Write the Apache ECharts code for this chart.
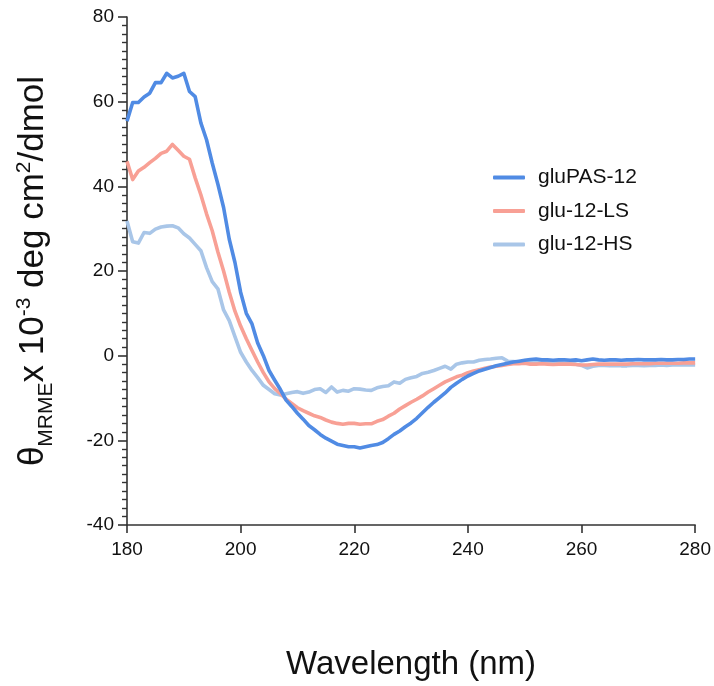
<!DOCTYPE html>
<html>
<head>
<meta charset="utf-8">
<script src="https://cdn.jsdelivr.net/npm/echarts@6/dist/echarts.min.js"></script>
<style>
  html, body { margin: 0; padding: 0; background: #fff; }
  #chart { width: 714px; height: 686px; }
</style>
</head>
<body>
<div id="chart"></div>
<script>
// wavelength grid, 1 nm steps
const wavelengths = [];
for (let nm = 180; nm <= 280; nm++) wavelengths.push(nm);

const seriesNames = ['gluPAS-12', 'glu-12-LS', 'glu-12-HS'];
const seriesColors = ['#508be4', '#f8a095', '#a9c6e8'];

// values (x 10^-3 deg cm2/dmol), 180..280 nm
const gluPAS12 = [
  55.4, 59.8, 59.8, 61.1, 62.0, 64.5, 64.5, 66.7, 65.6, 66.0,
  66.7, 62.4, 61.2, 55.0, 51.0, 45.5, 40.5, 35.0, 27.5, 22.0,
  15.0, 10.0, 7.5, 3.0, 0.0, -3.5, -5.8, -8.0, -10.5, -12.0,
  -13.6, -15.0, -16.5, -17.5, -18.6, -19.5, -20.2, -20.9, -21.2, -21.5,
  -21.5, -21.8, -21.5, -21.2, -21.0, -20.5, -19.6, -18.6, -17.8, -16.8,
  -15.9, -14.8, -13.5, -12.2, -11.0, -9.9, -8.8, -7.5, -6.5, -5.6,
  -4.8, -4.2, -3.6, -3.2, -2.8, -2.4, -2.1, -1.8, -1.5, -1.3,
  -1.1, -0.9, -0.8, -1.0, -1.0, -1.1, -1.0, -1.0, -1.1, -1.0,
  -1.2, -1.0, -0.8, -1.0, -1.1, -1.0, -1.0, -1.1, -1.0, -1.0,
  -0.9, -1.0, -1.0, -1.0, -0.9, -1.0, -1.0, -0.9, -0.9, -0.8,
  -0.8
];
const glu12LS = [
  45.9, 41.6, 43.6, 44.5, 45.6, 46.6, 47.8, 48.3, 49.9, 48.5,
  47.1, 46.4, 42.0, 38.0, 33.5, 29.5, 24.5, 20.0, 15.0, 10.5,
  7.0, 4.0, 1.2, -1.5, -4.0, -6.2, -7.8, -9.0, -10.3, -11.3,
  -12.3, -13.0, -13.6, -14.2, -14.6, -15.2, -15.7, -16.0, -16.2, -16.0,
  -16.0, -16.2, -16.1, -16.1, -15.5, -15.1, -14.3, -13.6, -12.6, -11.8,
  -11.0, -10.3, -9.5, -8.6, -7.8, -7.0, -6.2, -5.6, -5.0, -4.6,
  -4.0, -3.6, -3.3, -3.0, -2.7, -2.5, -2.3, -2.1, -1.9, -1.9,
  -1.8, -2.0, -2.0, -1.9, -2.0, -2.1, -2.0, -2.0, -2.0, -2.1,
  -2.2, -2.2, -2.1, -2.0, -2.0, -2.0, -2.0, -2.0, -2.0, -1.9,
  -1.9, -1.9, -1.9, -1.8, -1.8, -1.8, -1.8, -1.8, -1.7, -1.7,
  -1.7
];
const glu12HS = [
  31.8, 26.9, 26.6, 29.1, 28.9, 29.9, 30.4, 30.6, 30.7, 30.2,
  28.8, 27.8, 26.3, 24.8, 20.8, 17.5, 15.8, 10.8, 8.3, 4.5,
  0.8, -1.5, -3.5, -5.2, -7.0, -8.0, -9.0, -9.3, -9.0, -8.7,
  -8.5, -8.9, -8.6, -8.0, -7.8, -8.7, -7.4, -8.6, -8.2, -8.4,
  -7.8, -7.9, -8.1, -8.2, -7.6, -7.3, -7.1, -6.2, -6.5, -5.6,
  -5.2, -4.9, -4.2, -3.9, -3.5, -3.0, -2.5, -3.2, -2.0, -1.7,
  -1.5, -1.5, -1.1, -0.9, -0.8, -0.6, -0.5, -1.3, -1.4, -1.5,
  -1.5, -1.6, -1.6, -1.5, -1.6, -1.6, -1.7, -1.8, -1.8, -2.0,
  -2.3, -2.9, -2.5, -2.3, -2.3, -2.4, -2.3, -2.4, -2.4, -2.3,
  -2.3, -2.4, -2.3, -2.3, -2.2, -2.3, -2.2, -2.2, -2.2, -2.2,
  -2.2
];

const xTicks = [180, 200, 220, 240, 260, 280];
const yTicks = [-40, -20, 0, 20, 40, 60, 80];

const font = 'Liberation Sans, Arial, sans-serif';
const toPairs = vals => wavelengths.map((nm, i) => [nm, vals[i]]);

const chart = echarts.init(document.getElementById('chart'), null, { renderer: 'canvas' });

// HS drawn first so the darker lines sit on top
const drawOrder = [2, 1, 0];
const allValues = [gluPAS12, glu12LS, glu12HS];

const option = {
  animation: false,
  backgroundColor: '#fff',
  textStyle: { fontFamily: font },
  grid: { left: 127, right: 18, top: 17, bottom: 159, containLabel: false },
  legend: {
    orient: 'vertical',
    left: 488,
    top: 162,
    itemWidth: 32,
    itemHeight: 4,
    itemGap: 12.5,
    data: seriesNames.map((name, i) => ({
      name,
      icon: 'roundRect',
      itemStyle: { color: seriesColors[i] }
    })),
    textStyle: { fontFamily: font, fontSize: 21, color: '#111', padding: [0, 0, 0, 8] }
  },
  xAxis: {
    type: 'value',
    min: xTicks[0],
    max: xTicks[xTicks.length - 1],
    interval: 20,
    name: 'Wavelength (nm)',
    nameLocation: 'middle',
    nameGap: 123,
    nameTextStyle: { fontFamily: font, fontSize: 33, color: '#111' },
    axisLine: { onZero: false, lineStyle: { color: '#333', width: 1.6 } },
    axisTick: { show: true, inside: false, length: 8, lineStyle: { color: '#333', width: 1.6 } },
    axisLabel: { fontFamily: font, fontSize: 19, color: '#111', margin: 15 },
    splitLine: { show: false }
  },
  yAxis: {
    type: 'value',
    min: yTicks[0],
    max: yTicks[yTicks.length - 1],
    interval: 20,
    name: '{t|θ}{sub|MRME}{t|x 10}{sup|-3}{t| deg cm}{sup|2}{t|/dmol}',
    nameLocation: 'middle',
    nameRotate: 90,
    nameGap: 70,
    nameTextStyle: {
      fontFamily: font,
      color: '#111',
      rich: {
        t: { fontFamily: font, fontSize: 35, color: '#111', lineHeight: 47, verticalAlign: 'middle' },
        sub: { fontFamily: font, fontSize: 21, color: '#111', lineHeight: 47, verticalAlign: 'bottom' },
        sup: { fontFamily: font, fontSize: 21, color: '#111', lineHeight: 47, verticalAlign: 'top', padding: [4, 0, 0, 0] }
      }
    },
    axisLine: { onZero: false, lineStyle: { color: '#333', width: 1.6 } },
    axisTick: { show: true, inside: false, length: 9, lineStyle: { color: '#333', width: 1.6 } },
    minorTick: { show: true, splitNumber: 10, length: 5, lineStyle: { color: '#333', width: 1.4 } },
    axisLabel: { fontFamily: font, fontSize: 19, color: '#111', margin: 13 },
    splitLine: { show: false },
    minorSplitLine: { show: false }
  },
  series: drawOrder.map(i => ({
    name: seriesNames[i],
    type: 'line',
    data: toPairs(allValues[i]),
    showSymbol: false,
    symbol: 'none',
    lineStyle: { color: seriesColors[i], width: 3.6, join: 'round' },
    itemStyle: { color: seriesColors[i] },
    emphasis: { disabled: true }
  }))
};

chart.setOption(option);
</script>
</body>
</html>
